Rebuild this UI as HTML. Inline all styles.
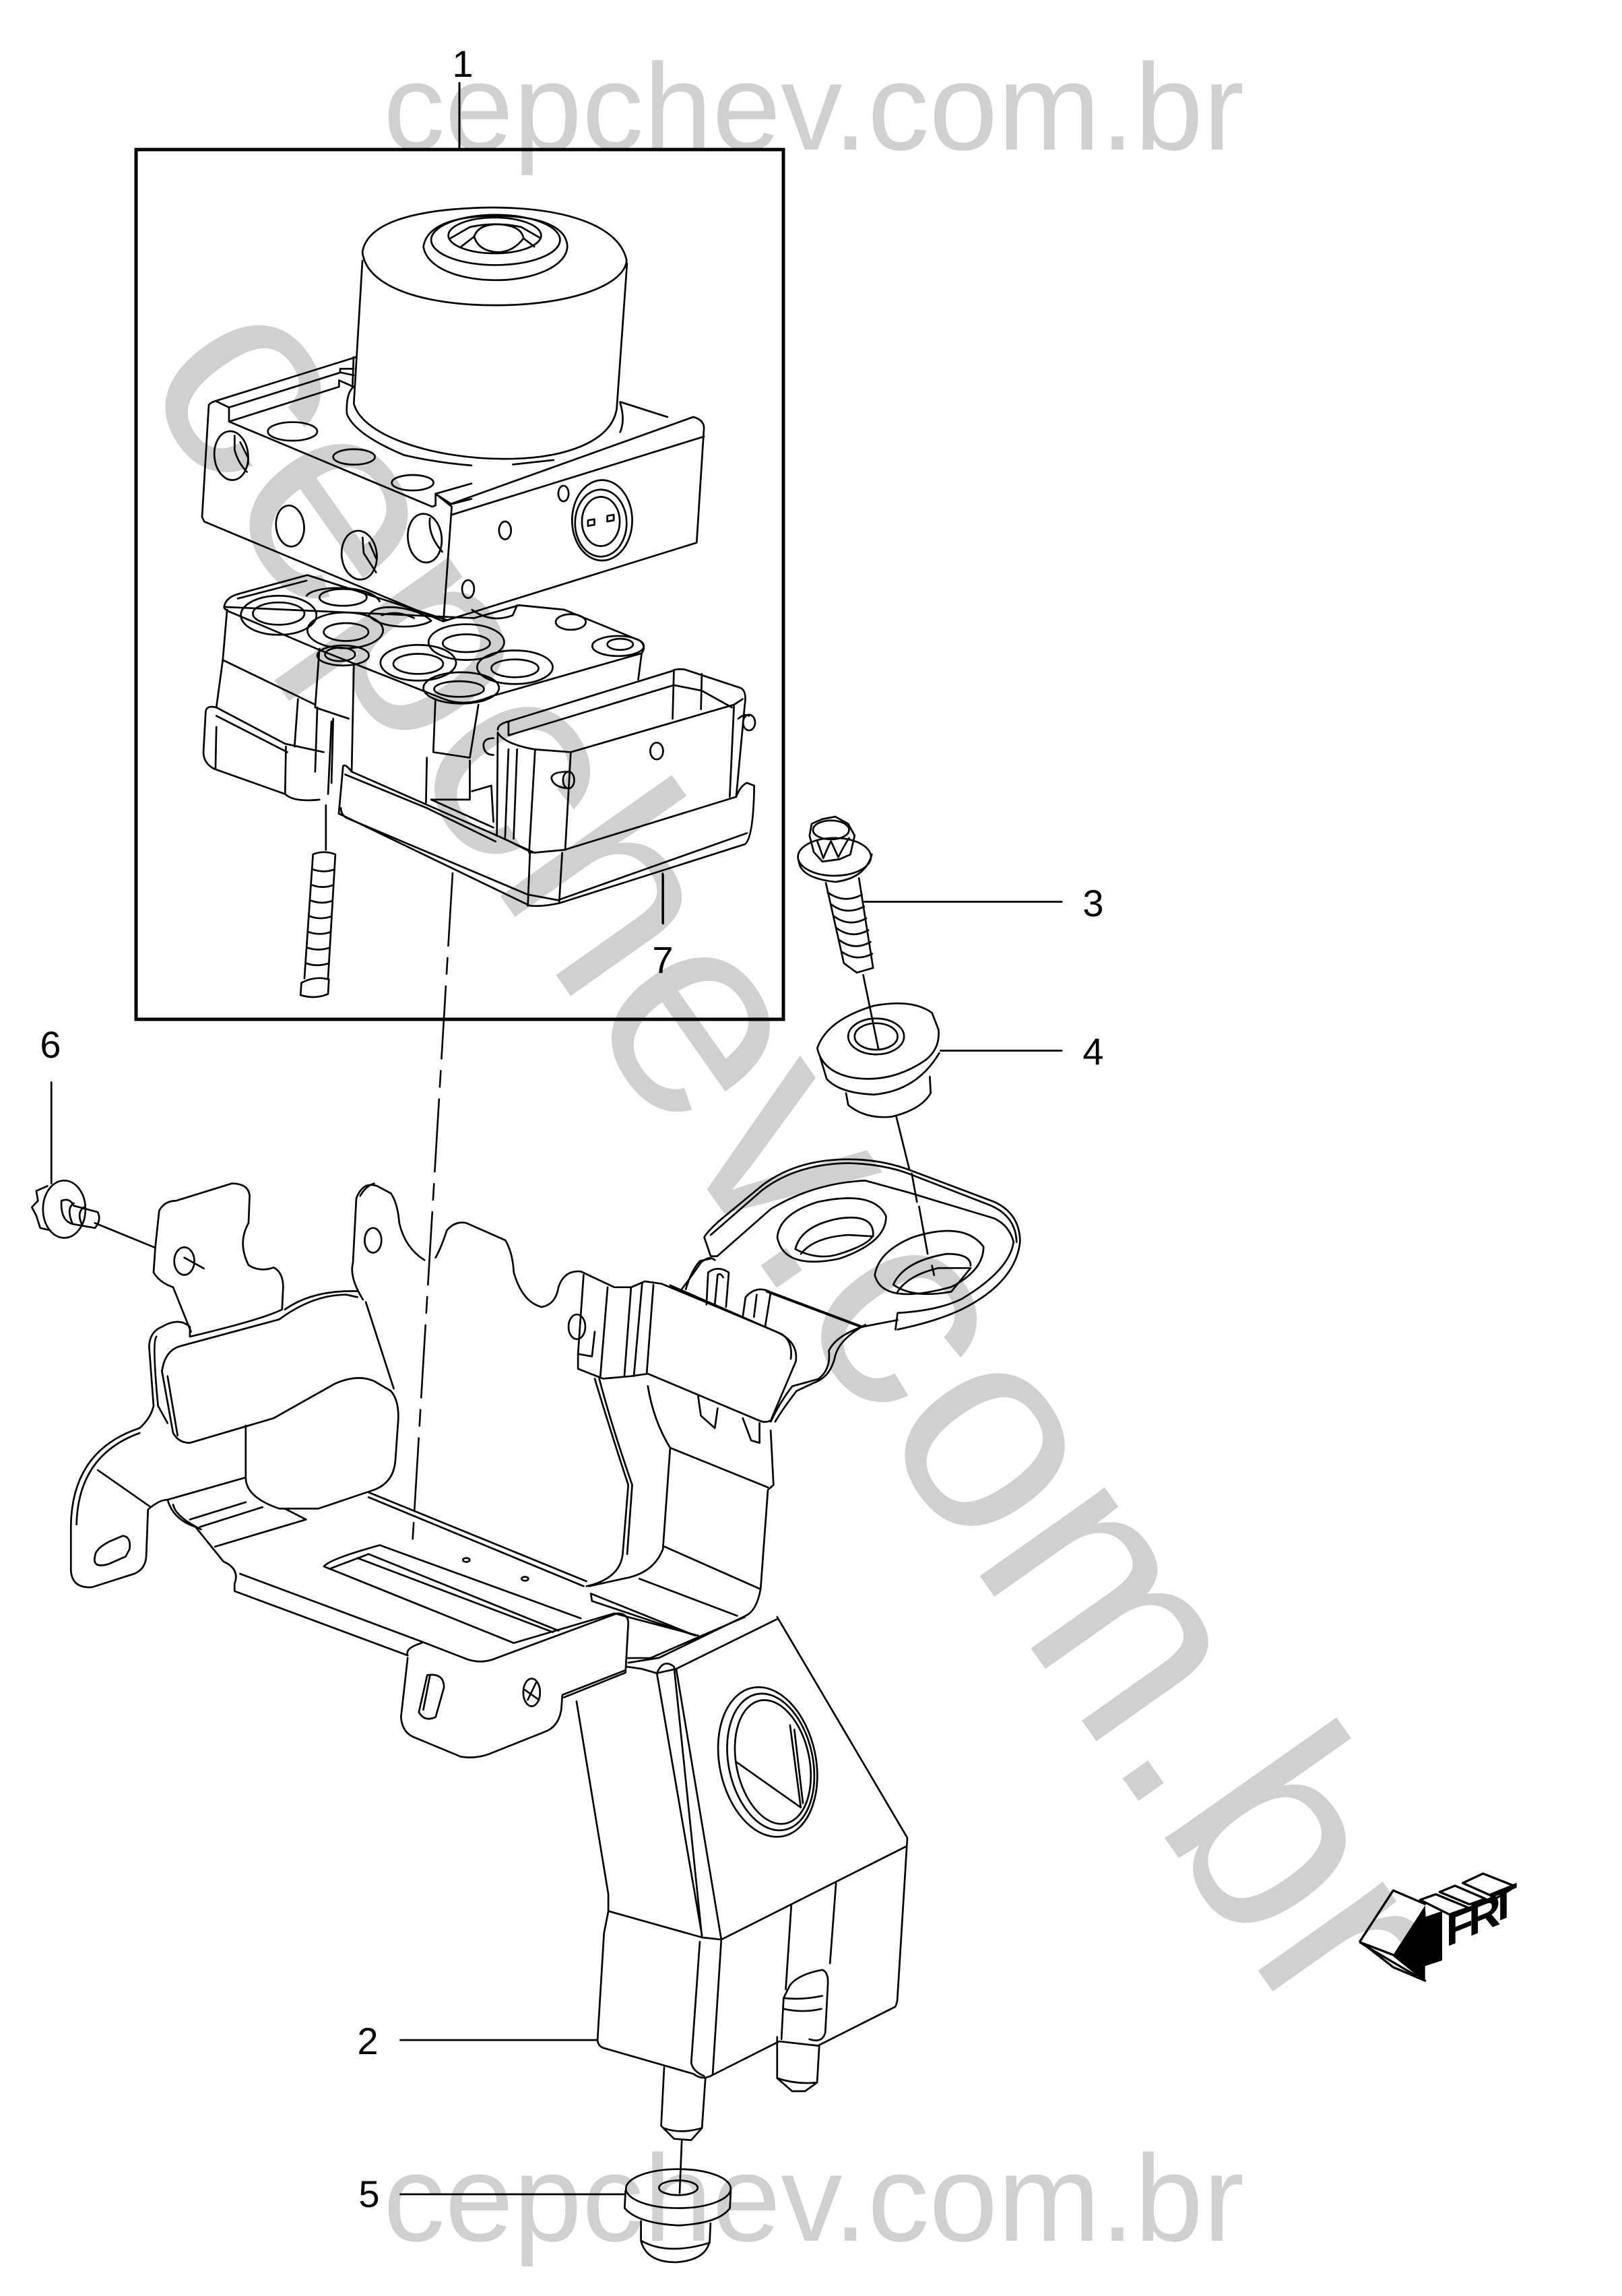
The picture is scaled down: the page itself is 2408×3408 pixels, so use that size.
<!DOCTYPE html>
<html><head><meta charset="utf-8"><style>
html,body{margin:0;padding:0;background:#fff}
svg{display:block}
.l *{vector-effect:non-scaling-stroke}
.l{fill:none;stroke:#000;stroke-width:2.7;stroke-linejoin:round;stroke-linecap:round}
.t{font-family:"Liberation Sans",sans-serif;font-size:56px;fill:#000;text-anchor:middle}
.w{font-family:"Liberation Sans",sans-serif;fill:#d0d0d0}
</style></head><body>
<svg width="2408" height="3408" viewBox="0 0 2408 3408" xmlns="http://www.w3.org/2000/svg">
<rect width="2408" height="3408" fill="#fff"/>
<text class="w" x="569" y="222" font-size="183">cepchev.com.br</text>
<text class="w" x="569" y="3326" font-size="183">cepchev.com.br</text>
<text class="w" font-size="430" transform="translate(202,563.5) rotate(54.8)">cepchev.com.br</text>

<rect x="202" y="222" width="961" height="1291" fill="none" stroke="#000" stroke-width="5"/>
<path d="M682 122V220" stroke="#000" stroke-width="3" fill="none"/>
<path d="M672 1295L612 2296" stroke="#000" stroke-width="2.6" fill="none" stroke-dasharray="110 16 26 16"/>

<!-- ABS module -->
<g class="l" transform="translate(200,250) scale(.6378,.8291)">
<path d="M530 150C540 100 640 72 830 70C1010 70 1130 105 1145 165C1140 210 1010 245 840 245C680 245 540 215 530 150Z"/>
<path d="M530 165L510 421C530 480 700 520 860 520C1000 520 1110 490 1122 430L1146 170"/>
<path d="M880 530L975 522M1130 420Q1142 450 1130 472"/>
<path d="M672 140C680 180 760 200 840 200C930 200 1005 175 1007 140C1005 100 930 85 840 85C750 85 680 100 672 140Z"/>
<ellipse cx="840" cy="128" rx="150" ry="45"/><ellipse cx="838" cy="120" rx="108" ry="32"/>
<path d="M735 125L780 105Q840 95 900 105L945 125M760 140L790 122Q800 100 845 100Q900 102 905 125Q880 150 845 150Q800 148 790 122M905 125L930 140"/>
<path d="M738 600L1300 445Q1325 450 1325 465L1308 670L722 810"/>
<path d="M738 620L1325 480M1130 418L1240 445"/>
<ellipse cx="998" cy="582" rx="12" ry="14"/><ellipse cx="862" cy="648" rx="14" ry="16"/><ellipse cx="776" cy="753" rx="14" ry="16"/>
<ellipse cx="1088" cy="630" rx="70" ry="72"/><ellipse cx="1085" cy="635" rx="60" ry="60"/><ellipse cx="1085" cy="632" rx="44" ry="44"/>
<path d="M1055 630l15 -2v10l-15 2zM1100 622l15 -2v10l-15 2z"/>
<!-- plate -->
<path d="M208 785Q212 768 240 762L402 728L725 808M790 805L895 782L1000 790L1175 845Q1192 855 1180 868L830 945Q770 965 720 950L430 862L225 795Q208 790 208 785Z"/>
<path d="M240 770L400 738"/>
<ellipse cx="335" cy="800" rx="88" ry="35"/><ellipse cx="335" cy="797" rx="60" ry="20"/>
<ellipse cx="490" cy="827" rx="88" ry="32"/><ellipse cx="492" cy="830" rx="52" ry="16"/>
<path d="M400 765C420 745 550 745 570 775"/><ellipse cx="485" cy="768" rx="55" ry="15"/>
<path d="M545 800C560 775 660 785 690 810C660 825 570 825 545 800Z"/><path d="M575 800Q610 790 650 805"/>
<ellipse cx="772" cy="848" rx="88" ry="32"/><ellipse cx="772" cy="850" rx="55" ry="16"/>
<ellipse cx="660" cy="885" rx="88" ry="32"/><ellipse cx="660" cy="887" rx="58" ry="18"/>
<ellipse cx="885" cy="893" rx="88" ry="30"/><ellipse cx="885" cy="895" rx="55" ry="16"/>
<ellipse cx="760" cy="930" rx="88" ry="28"/><ellipse cx="755" cy="932" rx="58" ry="14"/>
<ellipse cx="1125" cy="855" rx="60" ry="18"/><ellipse cx="1130" cy="852" rx="30" ry="10"/>
<ellipse cx="1015" cy="812" rx="35" ry="14"/><ellipse cx="485" cy="872" rx="60" ry="18"/><ellipse cx="478" cy="870" rx="35" ry="12"/>
<path d="M785 790Q830 815 880 800L890 782"/>
<path d="M215 790L205 880L190 965M205 880L420 960M430 860L420 965L498 985M510 890L505 1080M700 950L695 1045L780 1055L800 960M1180 868L1172 915"/>
<path d="M165 975Q165 960 190 965L350 1030L440 1045M165 975L160 1045Q160 1065 185 1075L350 1120Q370 1135 430 1130M190 980L355 1045M190 1000L188 1075M352 1035L350 1120M380 950L372 1035"/>
<path d="M425 965L420 1080M462 985L458 1100"/>
<!-- tray -->
<path d="M485 1070L475 1155M485 1070Q490 1065 505 1080L845 1195M475 1155L920 1320Q950 1322 990 1315L1420 1210Q1440 1200 1442 1105L1425 1100Q1410 1105 1400 1125L1000 1220L930 1225L845 1195"/>
<path d="M490 1085L680 1145L840 1205M480 1145Q480 1160 500 1165L915 1300L985 1310L1425 1190M920 1225L915 1320M995 1225L988 1315"/>
<!-- connector -->
<path d="M845 1005Q845 995 870 990L1250 900Q1260 895 1280 897L1410 930Q1425 935 1420 960L1400 1125M870 990V1015L1255 925L1320 935L1390 965M1015 1045L1395 960L1415 950M930 1040L1015 1045M845 1010Q860 1030 930 1040M845 1010L843 1195M932 1040L918 1225M1015 1045L1002 1220M1395 960L1385 1125M1255 900L1252 985M1320 905L1318 968M870 1040L862 1200M890 1040L882 1200M860 1200L925 1225"/>
<ellipse cx="1430" cy="992" rx="14" ry="14"/><path d="M1405 985Q1420 975 1430 980"/>
<ellipse cx="1215" cy="1043" rx="15" ry="15"/><ellipse cx="1010" cy="1095" rx="13" ry="15"/><path d="M1010 1080Q970 1080 970 1092Q975 1108 1010 1110"/>
<path d="M835 1020Q810 1020 812 1035Q815 1050 835 1050"/>
<path d="M680 1055L678 1135M690 1130L780 1130V1060M690 1130L835 1180M785 1115L830 1105L835 1170"/>
<!-- long bolt -->
<path d="M458 990L450 1120M445 1140V1220"/>
<path d="M415 1228Q440 1220 467 1228L450 1450M415 1228L395 1450M415 1255Q440 1262 465 1255M413 1283Q438 1290 462 1283M411 1311Q436 1318 460 1311M408 1339Q433 1346 458 1339M405 1367Q430 1374 456 1367M402 1395Q427 1402 454 1395M399 1423Q424 1430 452 1423"/>
<path d="M388 1458Q420 1445 452 1452L450 1478Q420 1488 386 1480Z"/>
<path d="M1230 1265V1352"/>
</g>

<!-- block left end, from close-up -->
<g class="l" transform="translate(200,400) scale(.3333,.3827)">
<path d="M985 340L360 510Q340 515 330 525L300 960L310 978L1375 1365L1412 920L1340 870V915L1325 920L420 590V535L360 510"/>
<path d="M420 535L915 400V385L975 385M420 590L910 455V430L975 455M1340 870L1500 830M1410 910L1500 890M1340 870L1410 910"/>
<path d="M920 400L975 410M975 340L970 455"/>
<ellipse cx="430" cy="722" rx="75" ry="95" transform="rotate(-8 430 722)"/>
<path d="M445 645V700Q460 750 500 785M470 670L505 730V755"/>
<ellipse cx="692" cy="995" rx="62" ry="80" transform="rotate(-10 692 995)"/>
<ellipse cx="1000" cy="1108" rx="78" ry="95" transform="rotate(-10 1000 1108)"/>
<path d="M1015 1040L1020 1100L1075 1175M1045 1060L1075 1120"/>
<ellipse cx="1292" cy="1042" rx="75" ry="95" transform="rotate(-10 1292 1042)"/>
<path d="M1315 965Q1305 1030 1370 1095"/>
<ellipse cx="703" cy="628" rx="110" ry="36"/><ellipse cx="977" cy="727" rx="93" ry="30"/><ellipse cx="1238" cy="827" rx="93" ry="30"/>
<path d="M975 455Q940 480 945 560Q980 640 1200 720Q1350 750 1500 760"/>
</g>

<!-- bracket -->
<g class="l" transform="translate(0,1500) scale(.8291,.7334)">
<path d="M92 145V350"/>
<ellipse cx="115" cy="402" rx="38" ry="58"/>
<path d="M85 355L65 365L68 385L57 398L65 415L72 440L90 445"/>
<path d="M110 385Q125 378 132 395L175 408Q182 425 170 440L130 432Q108 425 110 385M132 390Q118 400 130 432M150 398Q136 410 148 436"/>
<path d="M170 430L278 480"/>
<path d="M278 480L285 405Q295 385 315 385L415 350Q445 350 447 375L445 430Q425 470 445 515Q465 530 490 520Q507 530 507 560L505 605"/>
<path d="M275 530L278 480M275 530Q285 550 310 560L342 650"/>
<ellipse cx="330" cy="507" rx="18" ry="28"/><path d="M330 500L365 522"/>
<path d="M505 605Q470 625 340 660V640Q320 620 290 640Q268 650 267 680L275 800Q270 825 250 845Q130 890 127 1040V1135Q130 1170 165 1167L240 1140Q262 1130 262 1100L265 1010Q285 990 300 990L440 945"/>
<path d="M280 660Q272 670 283 800L300 835M137 1040Q140 900 250 855"/>
<path d="M290 730Q295 690 320 680L500 625Q560 575 620 575L640 580M510 605Q560 565 640 568"/>
<path d="M290 730L310 855Q320 875 340 875L490 825L600 755Q640 735 670 750L700 770Q715 790 713 830L708 910Q705 955 670 970L570 1008H500Q440 985 440 945V840M300 740L318 860M655 590L705 765"/>
<path d="M650 585Q625 540 632 510L638 380Q650 345 675 355L700 370Q712 390 715 430Q725 480 760 505M645 375Q655 355 670 350"/>
<ellipse cx="668" cy="465" rx="15" ry="25"/>
<path d="M780 500Q790 480 800 445Q815 425 835 430L905 465Q918 490 920 530Q935 590 970 600Q995 595 1000 560Q1010 525 1040 528L1100 560H1130L1155 548L1185 553L1390 650Q1430 670 1425 710L1380 830Q1370 835 1360 830L1160 735L1130 740L1080 745L1035 725V695L1060 700L1065 650"/>
<path d="M1200 556L1400 655Q1420 670 1416 705"/>
<ellipse cx="1033" cy="640" rx="15" ry="25"/>
<path d="M1045 535L1035 695M1088 560L1075 740M1130 560L1118 740M1150 550L1135 740M1170 555L1158 735"/>
<path d="M1065 745Q1090 840 1125 960L1115 1100Q1110 1150 1050 1165M1073 745Q1095 840 1132 960L1123 1100M1160 760Q1170 830 1200 885L1187 1090Q1170 1140 1115 1150L1055 1165M1200 885L1375 965M1380 850L1385 960L1375 970L1362 1170Q1355 1215 1335 1225L1180 1310L1125 1320"/>
<path d="M1250 780L1255 820L1280 845L1285 805M1330 825L1345 870L1360 875V835"/>
<path d="M1265 595L1268 530Q1285 515 1305 530L1300 600M1280 595L1285 535Q1290 530 1295 540M1330 620L1335 580Q1355 555 1380 570L1370 640M1350 620L1355 575"/>
<path d="M1220 565Q1240 535 1255 510Q1270 495 1280 505M1380 570L1545 640"/>
<path d="M300 990Q310 1030 350 1045L400 1115Q430 1130 420 1160V1175L730 1305M430 1140L750 1275L830 1310Q860 1325 890 1310L1105 1220Q1125 1220 1125 1240L1120 1340L1010 1390M310 1000Q315 1025 360 1050M340 1030L440 995M358 1045L470 1005M385 1085L548 1030L510 1008M660 985L1045 1165M660 975L1050 1155"/>
<path d="M580 1125Q590 1110 680 1082L1040 1230M580 1125L920 1280M590 1130L660 1100L1000 1255M640 1108L990 1258M920 1280L1100 1220"/>
<ellipse cx="835" cy="1112" rx="6" ry="4"/><ellipse cx="940" cy="1150" rx="6" ry="4"/>
<path d="M1058 1180L1245 1265M1058 1180L1060 1195L1245 1265M1190 1085L1360 1170M1145 1150L1320 1225M1100 1220L1250 1265"/>
<path d="M730 1305Q725 1290 755 1280M730 1310L718 1430Q720 1460 740 1470L825 1510Q850 1515 875 1505L975 1460Q1000 1450 1005 1415L1007 1385L1120 1335"/>
<path d="M765 1345Q795 1340 795 1370L780 1430Q760 1440 750 1420ZM770 1345L758 1415"/>
<ellipse cx="952" cy="1380" rx="15" ry="28"/><path d="M940 1375L965 1395M945 1395L960 1360"/>
<path d="M170 1105Q170 1090 195 1075L220 1063Q235 1065 232 1090L225 1105L195 1120Q165 1130 170 1105Z"/>
<path d="M175 930L270 1005"/>
</g>

<!-- lower body -->
<g class="l" transform="translate(500,2400) scale(.6378,.6429)">
<path d="M558 195L632 640V680L622 730L607 975Q607 990 620 995L830 1055Q850 1070 870 1060L1030 980L1120 990L1300 900Q1305 890 1305 880L1328 510L1025 0"/>
<path d="M635 680L850 740L895 745L1325 530"/>
<path d="M745 130Q760 95 785 115L850 740M745 130L790 120L895 745M745 130L850 735M845 750L825 1030Q830 1050 855 1060M895 745L875 1055"/>
<path d="M790 120L1025 5M675 95L730 95L950 0M675 115L710 120L745 130"/>
<ellipse cx="1003" cy="335" rx="112" ry="175" transform="rotate(-12 1003 335)"/>
<ellipse cx="1010" cy="335" rx="98" ry="160" transform="rotate(-12 1010 335)"/>
<ellipse cx="1015" cy="335" rx="85" ry="145" transform="rotate(-12 1015 335)"/>
<path d="M930 335L1080 440M1055 250L1080 440M1065 260L1085 430"/>
<path d="M1058 665L1045 860M1162 615L1148 800"/>
<path d="M1040 880L1055 850Q1075 825 1130 815Q1145 820 1143 850L1137 960Q1130 985 1100 975M1040 880Q1080 885 1130 875M1040 905Q1085 915 1128 905M1040 880L1035 975M1025 970V1065L1060 1095H1090L1118 1075L1123 990M1025 1065Q1070 1080 1118 1075"/>
<path d="M762 1040L755 1175L785 1205L825 1208L850 1180L858 1065M760 1180Q800 1195 850 1180"/>
<path d="M148 977H607M148 1333H670M803 1210L798 1330"/>
<ellipse cx="795" cy="1320" rx="122" ry="45"/>
<path d="M672 1325L670 1365Q700 1400 795 1405Q890 1400 915 1365L917 1325"/>
<ellipse cx="795" cy="1318" rx="45" ry="17"/>
<path d="M708 1395V1440Q720 1490 790 1490Q860 1485 868 1440L870 1400M708 1440Q770 1475 868 1445"/>
</g>

<!-- hardware, right flange -->
<g class="l" transform="translate(800,1100) scale(.6378,.7015)">
<ellipse cx="688" cy="245" rx="85" ry="40"/>
<path d="M605 255Q610 290 690 298Q760 290 775 240"/>
<ellipse cx="680" cy="188" rx="42" ry="20"/>
<path d="M630 200L635 175L660 165L690 160L720 175L735 200L725 240L700 250L660 255L640 235ZM648 212Q655 228 662 248Q672 225 680 212Q688 228 697 246Q708 225 722 205"/>
<path d="M668 300L710 470L740 490L778 480L745 290M672 320Q710 345 752 325M680 345Q715 370 757 350M686 370Q722 395 762 375M692 395Q728 420 767 400M698 420Q733 445 772 425M704 445Q738 468 776 450"/>
<path d="M758 340H1217M935 655H1217M288 280V385M755 495L790 650"/>
<path d="M648 650Q670 590 780 560Q870 545 915 575L930 610Q935 650 900 675Q820 725 730 712Q660 700 648 650Z"/>
<path d="M655 670L670 715Q700 745 780 748Q880 740 932 660M715 745L720 770Q760 800 820 795Q890 780 912 745L910 710"/>
<ellipse cx="785" cy="625" rx="65" ry="38"/><ellipse cx="785" cy="625" rx="50" ry="28"/>
<path d="M832 795L862 905M868 915L880 975M885 985L905 1085M915 1110L920 1130"/>
<path d="M385 1050Q390 1040 420 1015L520 940Q600 885 720 885Q800 885 870 910L1060 975Q1120 1000 1120 1060Q1110 1140 1000 1195Q940 1225 835 1245"/>
<path d="M385 1050L400 1090H415M400 1045L520 950Q600 895 720 893Q800 895 860 915L1050 982Q1110 1005 1112 1060M415 1090L540 990Q640 935 760 930L860 955L1060 1010Q1095 1025 1105 1060Q1095 1120 985 1180Q930 1205 835 1210L830 1245"/>
<path d="M555 1050Q560 1000 650 975Q780 950 808 1005Q810 1060 700 1095Q570 1120 555 1050Z"/>
<path d="M597 1075Q610 1025 700 1010Q780 1000 778 1045M610 1085Q640 1050 720 1045L778 1048M597 1075Q650 1100 700 1085Q770 1065 778 1045"/>
<path d="M782 1130Q790 1080 870 1050Q990 1015 1035 1070Q1035 1120 960 1155Q800 1195 782 1130Z"/>
<path d="M825 1150Q850 1100 950 1085Q1005 1085 1005 1110M835 1165Q860 1130 930 1115L1005 1115M825 1150Q870 1180 960 1165L1005 1115"/>
<path d="M400 1095L375 1100Q355 1120 342 1160M530 1165L750 1240L835 1225M750 1240Q690 1260 675 1290Q680 1330 650 1350L590 1365Q560 1400 540 1440M760 1235Q700 1265 690 1300Q680 1345 640 1358L600 1375Q570 1410 550 1440"/>
</g>

<!-- FRT arrow -->
<g transform="translate(1950,2700) scale(.3333)">
<path d="M497 385L355 605L497 715V655L573 630V410L500 435Z" fill="#000"/>
<g fill="none" stroke="#000" stroke-width="10" stroke-linejoin="round">
<path d="M205 548L355 318L500 380M205 548L355 605M205 548L240 570L355 660L497 720L355 605M240 570L460 700"/>
<path d="M475 360L545 335L690 395L605 425Z"/>
<path d="M562 325L630 297L765 355L695 380Z"/>
<path d="M665 285L755 243L900 300L815 352Z"/>
</g>
<g font-family="Liberation Sans,sans-serif" font-weight="700" font-size="200" fill="#000">
<text transform="translate(590,570) skewY(-22)">F</text>
<text transform="translate(690,525) skewY(-22)">R</text>
<text transform="translate(785,470) skewY(-22)">T</text>
</g>
</g>

<text class="t" x="687" y="114">1</text>
<text class="t" x="75" y="1570">6</text>
<text class="t" x="1623" y="1360">3</text>
<text class="t" x="1623" y="1580">4</text>
<text class="t" x="984" y="1444">7</text>
<text class="t" x="546" y="3049">2</text>
<text class="t" x="548" y="3276">5</text>
</svg>
</body></html>
